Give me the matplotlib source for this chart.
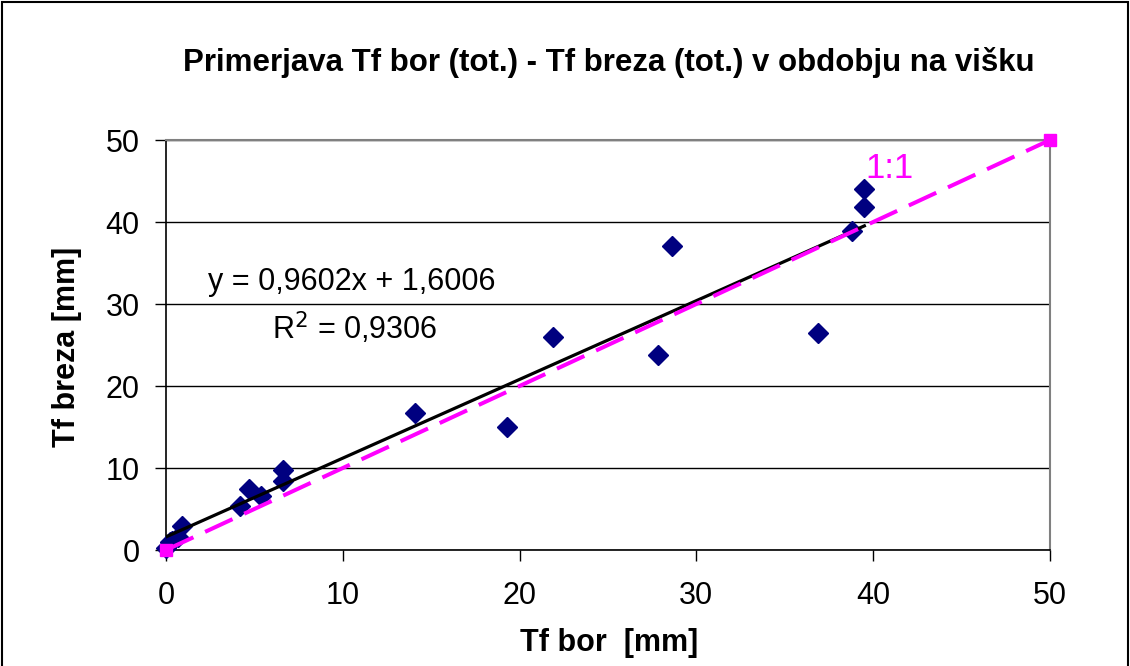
import matplotlib
matplotlib.use("Agg")
import matplotlib.pyplot as plt
import numpy as np

plt.rcParams['font.family'] = ['Liberation Sans', 'DejaVu Sans']

# Tf bor vs Tf breza [mm]
tf_bor = [0.0, 0.2, 0.35, 0.7, 0.9, 4.2, 4.7, 5.4, 6.6, 6.6,
          14.1, 19.3, 21.9, 27.8, 28.6, 36.9, 38.8, 39.5, 39.5]
tf_breza = [0.2, 1.0, 1.1, 1.6, 2.9, 5.4, 7.4, 6.6, 8.4, 9.8,
            16.7, 15.0, 26.0, 23.8, 37.1, 26.5, 38.9, 41.8, 44.0]

slope = 0.9602
intercept = 1.6006
r2 = 0.9306
one_to_one = [0, 50]

fig = plt.figure(figsize=(11.3, 6.66), dpi=100)
ax = fig.add_axes([166 / 1130, 1 - 550 / 666, 884 / 1130, 410 / 666])

ax.plot(tf_bor, tf_breza, linestyle='none', marker='D', markersize=10,
        color='#000080', clip_on=False, zorder=3)

xs = np.array([min(tf_bor), max(tf_bor)])
ax.plot(xs, slope * xs + intercept, color='black', lw=2.3, zorder=4)

ax.plot(one_to_one, one_to_one, color='#ff00ff', lw=2.9, dashes=(7.5, 3.2),
        marker='s', markersize=9, clip_on=False, zorder=5)

ax.set_xlim(0, 50)
ax.set_ylim(0, 50)
ax.set_xticks(range(0, 51, 10))
ax.set_yticks(range(0, 51, 10))
ax.tick_params(labelsize=22, length=8, width=1, direction='out')
ax.tick_params(axis='x', pad=14)
ax.tick_params(axis='y', pad=11)
ax.yaxis.grid(True, color='black', lw=1)
ax.set_axisbelow(True)
for side in ['top', 'right']:
    ax.spines[side].set_color('#808080')
    ax.spines[side].set_linewidth(1.5)
for side in ['left', 'bottom']:
    ax.spines[side].set_color('black')
    ax.spines[side].set_linewidth(1.2)

ax.set_xlabel('Tf bor  [mm]', fontsize=22, fontweight='bold')
ax.set_ylabel('Tf breza [mm]', fontsize=22, fontweight='bold')
ax.xaxis.set_label_coords(0.501, -0.19)
ax.yaxis.set_label_coords(-0.095, 0.495)

fig.text(609 / 1130, 1 - 62 / 666, 'Primerjava Tf bor (tot.) - Tf breza (tot.) v obdobju na višku',
         ha='center', va='center', fontsize=22.5, fontweight='bold')

ax.text(10.5, 32.7, f'y = {slope:.4f}x + {intercept:.4f}'.replace('.', ','),
        fontsize=22, ha='center', va='center')
ax.text(10.7, 27.1, f'R$^2$ = {r2:.4f}'.replace('.', ','),
        fontsize=22, ha='center', va='center')
ax.text(40.9, 46.5, '1:1', color='#ff00ff', fontsize=25, ha='center', va='center')

fig.patches.append(plt.Rectangle((2 / 1130, -0.01), 1 - 4 / 1130, 1.01 - 2 / 666,
                                 transform=fig.transFigure, fill=False,
                                 edgecolor='black', lw=1.5))

fig.savefig('out.png', dpi=100)
